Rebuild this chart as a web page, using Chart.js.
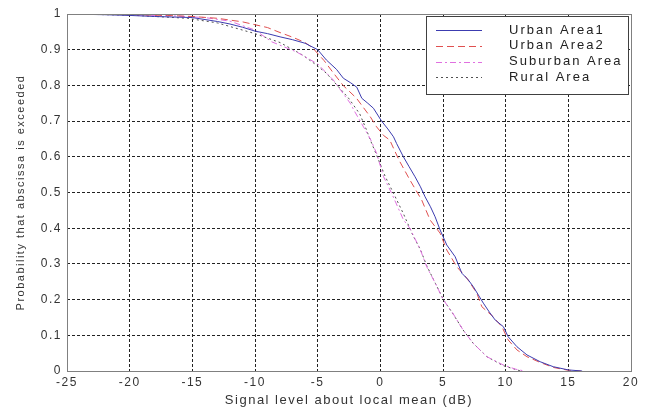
<!DOCTYPE html>
<html><head><meta charset="utf-8">
<script src="https://cdn.jsdelivr.net/npm/chart.js@4/dist/chart.umd.min.js"></script>
<style>html,body{margin:0;padding:0;background:#fff;}#wrap{width:655px;height:409px;position:relative;}</style>
</head><body><div id="wrap"><canvas id="c" width="655" height="409"></canvas></div>
<script>
const seriesLabels = ['Urban Area1', 'Urban Area2', 'Suburban Area', 'Rural Area'];
const xTitle = 'Signal level about local mean (dB)';
const yTitle = 'Probability that abscissa is exceeded';
const xTicks = [-25, -20, -15, -10, -5, 0, 5, 10, 15, 20];
const yTicks = [0, 0.1, 0.2, 0.3, 0.4, 0.5, 0.6, 0.7, 0.8, 0.9, 1];

const urban1X = [-25, -22, -20, -18, -15, -13, -12, -11, -10, -9, -8, -7, -6, -5, -4.3, -3.5, -2.95, -2.4, -1.88, -1.48, -1, -0.55, 0.1, 0.6, 1.05, 1.3, 1.84, 2.3, 2.77, 3.2, 3.57, 4.0, 4.37, 4.77, 5.3, 5.97, 6.5, 7.0, 7.42, 8.22, 8.7, 9.16, 9.82, 10.2, 10.9, 11.7, 12.75, 13.8, 15, 16.1];
const urban1Y = [1, 0.998, 0.996, 0.993, 0.99, 0.979, 0.972, 0.963, 0.952, 0.945, 0.936, 0.928, 0.918, 0.9, 0.871, 0.845, 0.82, 0.808, 0.795, 0.764, 0.75, 0.736, 0.70, 0.678, 0.656, 0.637, 0.60, 0.572, 0.544, 0.516, 0.488, 0.46, 0.432, 0.395, 0.353, 0.32, 0.274, 0.256, 0.236, 0.19, 0.165, 0.143, 0.124, 0.096, 0.068, 0.045, 0.026, 0.012, 0.003, 0];

const urban2X = [-25, -20, -17, -15, -13, -11, -10, -9, -8, -7, -6, -5.4, -4.5, -3.75, -2.97, -1.9, -0.8, -0.3, 0.25, 0.75, 1.5, 2.36, 3.3, 3.97, 4.77, 5.3, 6.1, 6.9, 7.7, 8.1, 9.0, 9.7, 10.2, 10.9, 11.7, 12.75, 13.8, 15, 16];
const urban2Y = [1, 0.998, 0.996, 0.993, 0.988, 0.978, 0.97, 0.962, 0.948, 0.935, 0.92, 0.905, 0.87, 0.835, 0.80, 0.764, 0.712, 0.684, 0.66, 0.647, 0.59, 0.535, 0.479, 0.423, 0.386, 0.339, 0.292, 0.26, 0.218, 0.18, 0.152, 0.124, 0.087, 0.059, 0.04, 0.024, 0.01, 0.002, 0];

const suburbanX = [-25, -20, -16, -14, -12, -10, -8.66, -6.7, -5, -3.75, -2.4, -2.1, -1.2, -0.8, -0.3, 0.26, 0.9, 1.85, 2.36, 3.2, 3.7, 4.4, 5.03, 5.8, 6.6, 7.4, 8.5, 9.8, 10.8, 11.5];
const suburbanY = [1, 0.998, 0.994, 0.99, 0.98, 0.955, 0.922, 0.894, 0.86, 0.815, 0.75, 0.73, 0.675, 0.65, 0.61, 0.544, 0.498, 0.423, 0.40, 0.339, 0.292, 0.245, 0.199, 0.161, 0.115, 0.078, 0.04, 0.017, 0.005, 0];

const ruralX = [-25, -20, -15.4, -13, -10, -8, -6.2, -5.1, -4.3, -2.55, -1.64, -1.1, -0.8, -0.3, 0.4, 1.05, 1.85, 2.65, 3.2, 3.7, 4.4, 5.03, 5.8, 6.6, 7.4, 8.5, 9.8, 11.2];
const ruralY = [1, 0.997, 0.988, 0.975, 0.945, 0.92, 0.885, 0.857, 0.834, 0.765, 0.72, 0.675, 0.647, 0.605, 0.544, 0.498, 0.44, 0.376, 0.34, 0.295, 0.245, 0.2, 0.16, 0.115, 0.078, 0.04, 0.015, 0];

const toPts = (xs, ys) => xs.map((x, i) => ({x: x, y: ys[i]}));

const spacingPlugin = {
  id: 'spacing',
  beforeUpdate(chart) { chart.ctx.letterSpacing = '1.5px'; },
  beforeDraw(chart) {
    const ctx = chart.ctx;
    ctx.letterSpacing = '1.5px';
    ctx.save();
    ctx.fillStyle = '#fff';
    ctx.fillRect(0, 0, chart.width, chart.height);
    ctx.restore();
  }
};

const boxLegendPlugin = {
  id: 'boxLegend',
  afterDatasetsDraw(chart) {
    const ctx = chart.ctx;
    const a = chart.chartArea;
    ctx.save();
    ctx.strokeStyle = '#808080';
    ctx.lineWidth = 1;
    ctx.setLineDash([]);
    ctx.strokeRect(Math.round(a.left) + 0.5, Math.round(a.top) + 0.5, Math.round(a.right - a.left), Math.round(a.bottom - a.top));
    const lx = 426, ly = 16, lw = 202, lh = 78;
    ctx.fillStyle = '#fff';
    ctx.fillRect(lx, ly, lw, lh);
    ctx.strokeStyle = '#404040';
    ctx.strokeRect(lx + 0.5, ly + 0.5, lw, lh);
    const rows = [30, 45.5, 61.5, 77];
    ctx.font = '13px "Liberation Sans", Arial, sans-serif';
    ctx.letterSpacing = '2px';
    ctx.textBaseline = 'middle';
    ctx.textAlign = 'left';
    chart.data.datasets.forEach((ds, i) => {
      const y = Math.round(rows[i]) + 0.5;
      ctx.strokeStyle = ds.borderColor;
      ctx.lineWidth = 1;
      ctx.setLineDash(ds.borderDash || []);
      ctx.beginPath();
      ctx.moveTo(436, y);
      ctx.lineTo(482, y);
      ctx.stroke();
      ctx.setLineDash([]);
      ctx.fillStyle = '#222';
      ctx.fillText(ds.label, 509, rows[i]);
    });
    ctx.restore();
  }
};

const gridColor = (minV, maxV) => (c) => {
  if (c.tick && (c.tick.value === minV || c.tick.value === maxV)) return 'rgba(0,0,0,0)';
  return '#222';
};

const tickFont = {family: '"Liberation Sans", Arial, sans-serif', size: 12};

new Chart(document.getElementById('c'), {
  type: 'line',
  data: {
    datasets: [
      {label: seriesLabels[0], data: toPts(urban1X, urban1Y), borderColor: '#3c3cb0', borderDash: [], order: 1},
      {label: seriesLabels[1], data: toPts(urban2X, urban2Y), borderColor: '#e05050', borderDash: [7, 4], order: 2},
      {label: seriesLabels[2], data: toPts(suburbanX, suburbanY), borderColor: '#e070e0', borderDash: [6, 3, 2, 3], order: 3},
      {label: seriesLabels[3], data: toPts(ruralX, ruralY), borderColor: '#505050', borderDash: [2, 3], order: 4}
    ]
  },
  options: {
    responsive: false,
    animation: false,
    devicePixelRatio: 1,
    datasets: {line: {borderWidth: 1, pointRadius: 0, tension: 0, fill: false}},
    layout: {padding: {top: 14, right: 24, left: 0, bottom: 0}},
    plugins: {legend: {display: false}, tooltip: {enabled: false}},
    scales: {
      x: {
        type: 'linear', min: -25, max: 20,
        afterBuildTicks: s => { s.ticks = xTicks.map(v => ({value: v})); },
        afterFit: s => { s.height = 38; },
        ticks: {font: tickFont, color: '#333', padding: 4, maxRotation: 0, autoSkip: false},
        grid: {color: gridColor(-25, 20), drawTicks: false, lineWidth: 1},
        border: {display: false, dash: [3, 2]},
        title: {display: true, text: xTitle, font: {family: '"Liberation Sans", Arial, sans-serif', size: 13}, color: '#333', padding: {top: 0, bottom: 1}}
      },
      y: {
        type: 'linear', min: 0, max: 1,
        afterBuildTicks: s => { s.ticks = yTicks.map(v => ({value: v})); },
        afterFit: s => { s.width = 67; },
        ticks: {font: tickFont, color: '#333', padding: 5, autoSkip: false, callback: v => String(v)},
        grid: {color: gridColor(0, 1), drawTicks: false, lineWidth: 1},
        border: {display: false, dash: [3, 2]},
        title: {display: true, text: yTitle, font: {family: '"Liberation Sans", Arial, sans-serif', size: 11}, color: '#333', padding: {top: 14, bottom: 0}}
      }
    }
  },
  plugins: [spacingPlugin, boxLegendPlugin]
});
</script>
</body></html>
